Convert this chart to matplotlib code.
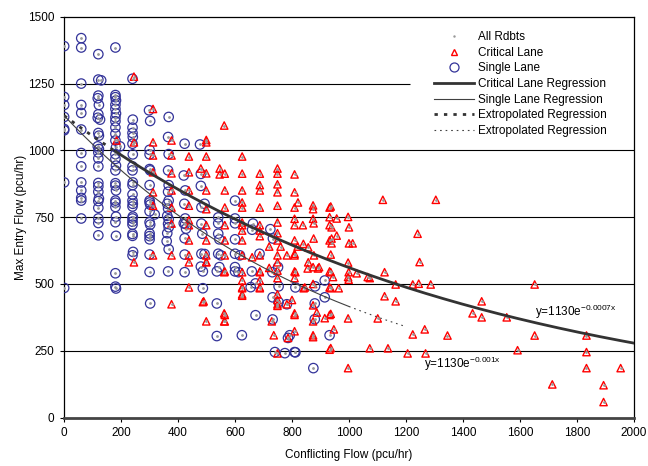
import matplotlib
matplotlib.use('Agg')
import matplotlib.pyplot as plt
from matplotlib.lines import Line2D
import numpy as np

plt.rcParams['font.family'] = ['Liberation Sans', 'DejaVu Sans']
plt.rcParams['mathtext.default'] = 'regular'

# Single lane observations (conflicting flow, max entry flow)
single_x = [0, 0, 0, 0, 0, 0, 0, 0,
            60, 60, 60, 60, 60, 60, 60, 60, 60, 60, 60, 60, 60,
            120, 120, 130, 120, 118, 122, 120, 118, 126, 120, 122, 118, 122, 120, 120, 120, 120, 120, 120, 122, 120, 120, 120, 120, 120,
            180, 180, 180, 182, 180, 180, 182, 180, 180, 180, 180, 180, 182, 196, 180, 180, 182, 180, 180, 180, 182, 180, 180, 180, 182, 180, 182, 180, 180, 182,
            240, 241, 240, 240, 241, 240, 241, 240, 240, 241, 240, 240, 240, 241, 240, 241, 240, 240, 240, 240, 240, 242, 240,
            298, 302, 300, 300, 300, 302, 300, 300, 300, 302, 300, 318, 300, 302, 300, 300, 300, 300, 300, 302,
            367, 365, 367, 365, 367, 365, 367, 362, 365, 362, 367, 365, 367, 362, 360, 367, 365,
            423, 420, 425, 422, 423, 425, 420, 428, 423, 423, 425,
            477, 480, 480, 482, 482, 485, 482, 487, 487, 493, 493, 480,
            541, 541, 541, 545, 541, 545, 536, 536, 536, 550,
            600, 600, 600, 600, 600, 600, 600, 624, 612, 617,
            663, 660, 655, 672, 672, 686, 659,
            733, 731, 732, 732, 740, 724,
            751, 753, 753, 792, 809, 782, 775,
            880, 880, 875, 881, 915, 915, 932, 812, 812, 786]
single_y = [1390, 1200, 1170, 1125, 1080, 1075, 880, 485,
            1420, 1385, 1250, 1170, 1140, 1078, 990, 940, 880, 850, 822, 812, 745,
            1360, 1265, 1262, 1205, 1195, 1170, 1135, 1122, 1115, 1065, 1055, 1015, 1005, 992, 970, 940, 878, 865, 845, 820, 810, 785, 745, 728, 682,
            1385, 1207, 1199, 1187, 1171, 1155, 1138, 1123, 1109, 1086, 1062, 1037, 1011, 1015, 986, 968, 943, 925, 877, 868, 850, 812, 804, 788, 752, 731, 680, 540, 490, 483,
            1268, 1115, 1085, 1065, 1050, 1025, 985, 940, 925, 880, 870, 835, 812, 800, 790, 752, 745, 733, 722, 687, 680, 620, 607,
            1150, 1110, 1002, 985, 930, 925, 870, 812, 805, 797, 772, 760, 731, 722, 689, 679, 667, 610, 545, 427,
            1125, 1050, 986, 925, 870, 845, 812, 800, 782, 755, 742, 725, 712, 690, 660, 630, 547,
            1025, 906, 850, 800, 671, 745, 727, 707, 610, 544, 725,
            1022, 912, 867, 787, 726, 688, 613, 547, 484, 800, 612, 565,
            749, 727, 688, 667, 613, 563, 547, 427, 305, 607,
            812, 745, 727, 667, 613, 563, 547, 308, 544, 607,
            726, 703, 488, 502, 383, 613, 547,
            670, 544, 450, 367, 245, 705,
            563, 491, 432, 308, 245, 424, 241,
            427, 368, 185, 491, 513, 450, 308, 487, 244, 298]

# Critical lane observations
crit_x = [245, 312, 184, 245, 312, 377, 312, 377, 438, 499, 562, 499, 499, 625, 312, 377, 438, 499, 480, 546,
          546, 564, 625, 687, 749, 749, 809, 312, 377, 438, 499, 564, 625, 687, 687, 749, 749, 809, 821, 625,
          564, 499, 438, 377, 312, 687, 749, 809, 809, 874, 874, 932,
          245, 312, 377, 377, 438, 438, 438, 438, 438, 499, 499, 499, 490, 438, 377, 499, 564, 564, 564, 564,
          564, 625, 625, 625, 625, 625, 625, 625, 687, 687, 687, 687, 687, 687, 749, 749, 749, 749, 749, 749,
          749, 749, 782, 800, 809, 809, 809, 809, 809, 809, 845, 874, 874, 874, 874, 874, 915, 895, 857, 857,
          838, 809, 874, 932, 932, 932, 932, 932, 932,
          1119, 1305, 936, 932, 957, 997, 876, 939, 1000, 957, 876, 939, 939, 1000, 1013, 1241, 1248, 1125, 1027, 1066,
          1073, 999, 997, 999, 936, 877, 855, 891, 936, 944, 997, 1164, 1224, 1245, 1287, 1652, 1125, 1164, 1466, 1434,
          1466, 1554, 1101, 997, 936, 887, 841, 936, 964, 947, 1224, 1266, 1346, 1652, 1834, 1073, 1137, 1206, 1269, 1592,
          1834, 1834, 1954, 1714, 1894, 1894, 997, 874, 936,
          499, 499, 562, 625, 687, 749, 782, 809, 812, 625, 687, 625, 487, 562, 562, 749, 809, 729, 736, 786, 749,
          625, 687, 749, 625, 564, 720, 760, 820, 840, 720, 660]
crit_y = [1276, 1155, 1037, 1030, 1030, 1037, 981, 981, 977, 977, 1093, 1039, 1030, 977, 918, 914, 918, 914, 932, 932,
          910, 913, 913, 913, 932, 913, 910, 843, 850, 850, 850, 850, 850, 870, 850, 873, 843, 843, 805, 805,
          786, 780, 793, 786, 793, 786, 793, 786, 744, 780, 744, 786,
          581, 607, 607, 424, 607, 581, 487, 738, 720, 720, 581, 360, 435, 663, 726, 663, 663, 607, 547, 384,
          360, 786, 720, 607, 513, 487, 461, 663, 720, 679, 607, 547, 513, 487, 730, 663, 607, 581, 522, 461,
          424, 240, 424, 440, 663, 613, 547, 522, 384, 323, 487, 563, 500, 420, 360, 308, 372, 563, 581, 637,
          720, 720, 794, 720, 663, 547, 487, 384, 254,
          815, 815, 790, 750, 745, 751, 727, 712, 712, 681, 670, 670, 652, 652, 652, 688, 582, 544, 540, 526,
          522, 544, 580, 516, 610, 607, 558, 558, 544, 526, 526, 498, 498, 501, 498, 498, 454, 435, 435, 390,
          375, 375, 371, 371, 388, 393, 484, 484, 484, 330, 311, 330, 307, 307, 307, 259, 259, 240, 240, 252,
          245, 185, 185, 124, 121, 58, 185, 301, 260,
          607, 583, 544, 544, 544, 550, 607, 607, 544, 484, 484, 456, 432, 390, 360, 418, 390, 360, 308, 298, 440,
          700, 700, 690, 730, 720, 640, 640, 640, 650, 560, 600]

# Regression: y = 1130 exp(b x)
a_coef = 1130
b_crit = -0.0007
b_single = -0.001
crit_fit_range = (180, 2000)
crit_ext_range = (0, 180)
single_fit_range = (0, 1000)
single_ext_range = (1000, 1200)

x_ticks = [0, 200, 400, 600, 800, 1000, 1200, 1400, 1600, 1800, 2000]
y_ticks = [0, 250, 500, 750, 1000, 1250, 1500]
grid_levels = [250, 500, 750, 1000]

fig = plt.figure(figsize=(6.48, 4.66), dpi=100)
ax = fig.add_axes([0.099, 0.104, 0.879, 0.860])

# Grid lines (the 1250 one is hidden behind the legend on the right)
for yv in grid_levels:
    ax.axhline(yv, color='black', linewidth=0.8, zorder=1)
ax.hlines(1250, 0, 1213, color='black', linewidth=0.8, zorder=1)

red = '#FF0000'
blue = '#333399'

ax.scatter(single_x, single_y, s=46, facecolors='none', edgecolors=blue, linewidths=0.9, zorder=3)
ax.scatter(crit_x, crit_y, s=28, marker='^', facecolors='none', edgecolors=red, linewidths=1.0, zorder=4)
ax.scatter(single_x + crit_x, single_y + crit_y, s=1, color='#999999', zorder=5)

def curve(rng, b):
    xx = np.linspace(rng[0], rng[1], 200)
    return xx, a_coef * np.exp(b * xx)

xx, yy = curve(crit_fit_range, b_crit)
ax.plot(xx, yy, color='#333333', linewidth=2.0, zorder=6)
xx, yy = curve(crit_ext_range, b_crit)
ax.plot(xx, yy, color='#333333', linewidth=2.0, linestyle=(0, (1.2, 2.2)), zorder=6)
xx, yy = curve(single_fit_range, b_single)
ax.plot(xx, yy, color='#404040', linewidth=0.8, zorder=6)
xx, yy = curve(single_ext_range, b_single)
ax.plot(xx, yy, color='#404040', linewidth=0.8, linestyle=(0, (1.5, 3.5)), zorder=6)

ax.text(1655, 397, 'y=1130e$^{-0.0007x}$', fontsize=8.5, va='center', ha='left', zorder=7)
ax.text(1262, 200, 'y=1130e$^{-0.001x}$', fontsize=8.5, va='center', ha='left', zorder=7)

ax.set_xlim(0, 2000)
ax.set_ylim(0, 1500)
ax.set_xticks(x_ticks)
ax.set_yticks(y_ticks)
ax.tick_params(labelsize=8.5, length=3, width=0.8, pad=4, colors='black')
ax.set_xlabel('Conflicting Flow (pcu/hr)', fontsize=8.5, labelpad=7)
ax.set_ylabel('Max Entry Flow (pcu/hr)', fontsize=8.5, labelpad=1)

for side in ['top', 'right', 'left']:
    ax.spines[side].set_linewidth(0.9)
    ax.spines[side].set_color('black')
ax.spines['bottom'].set_linewidth(2.0)
ax.spines['bottom'].set_color('#444444')

handles = [
    Line2D([], [], linestyle='none', marker='.', markersize=1.5, color='#999999'),
    Line2D([], [], linestyle='none', marker='^', markersize=5, markerfacecolor='none', markeredgecolor=red, markeredgewidth=1.0),
    Line2D([], [], linestyle='none', marker='o', markersize=6.5, markerfacecolor='none', markeredgecolor=blue, markeredgewidth=0.9),
    Line2D([], [], color='#333333', linewidth=2.0),
    Line2D([], [], color='#404040', linewidth=0.8),
    Line2D([], [], color='#333333', linewidth=2.0, linestyle=(0, (1.2, 2.2))),
    Line2D([], [], color='#404040', linewidth=0.8, linestyle=(0, (1.5, 3.5))),
]
labels = ['All Rdbts', 'Critical Lane', 'Single Lane', 'Critical Lane Regression',
          'Single Lane Regression', 'Extropolated Regression', 'Extropolated Regression']
leg = ax.legend(handles, labels, loc='upper left', bbox_to_anchor=(0.645, 0.97), fontsize=8.5,
                frameon=False, handlelength=3.4, handletextpad=0.3, labelspacing=0.31,
                borderpad=0.2, borderaxespad=0)
leg.set_zorder(10)

plt.savefig('out.png', dpi=100)
